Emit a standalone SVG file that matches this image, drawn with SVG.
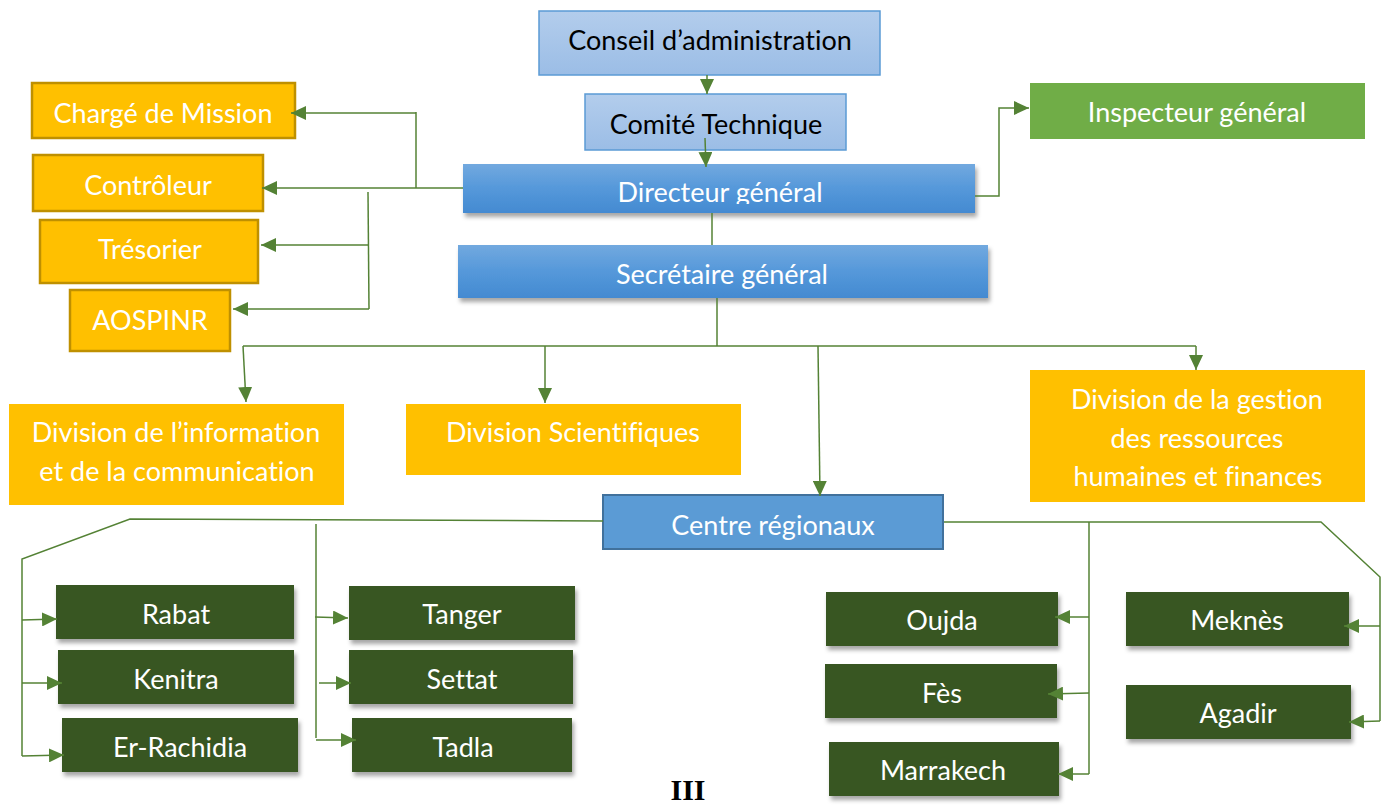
<svg xmlns="http://www.w3.org/2000/svg" width="1386" height="805" viewBox="0 0 1386 805">
<defs>
<linearGradient id="lb" x1="0" y1="0" x2="0" y2="1"><stop offset="0" stop-color="#b3cdec"/><stop offset="1" stop-color="#9bbde6"/></linearGradient>
<linearGradient id="db" x1="0" y1="0" x2="0" y2="1"><stop offset="0" stop-color="#72a9df"/><stop offset="0.5" stop-color="#5598da"/><stop offset="1" stop-color="#448ad1"/></linearGradient>
<filter id="sh" x="-5%" y="-20%" width="110%" height="150%"><feDropShadow dx="2" dy="4" stdDeviation="2" flood-color="#000" flood-opacity="0.35"/></filter>
<marker id="ar" viewBox="0 0 15 14" refX="15" refY="7" markerWidth="15" markerHeight="14" markerUnits="userSpaceOnUse" orient="auto"><path d="M0,0 L15,7 L0,14 z" fill="#548235"/></marker>
<clipPath id="dclip"><rect x="463" y="164" width="512" height="40"/></clipPath>
</defs>
<style>
text{font-family:Lato,"Open Sans","Liberation Sans",sans-serif;font-size:27px;text-anchor:middle;font-variant-ligatures:none}
.w{fill:#fff}
.k{fill:#000}
.gold{fill:#ffc000}
.goldb{fill:#ffc000;stroke:#bf9000;stroke-width:2.5}
.grn{fill:#385723;filter:url(#sh)}
.c line,.c path,.c polyline{stroke:#548235;stroke-width:1.5;fill:none}
.a{marker-end:url(#ar)}
</style>
<rect width="1386" height="805" fill="#fff"/>

<g id="conseil"><rect x="539" y="11" width="341" height="64" fill="url(#lb)" stroke="#5b9bd5" stroke-width="1.5"/><text x="710" y="50" class="k">Conseil d’administration</text></g>
<g id="comite"><rect x="585" y="94" width="261" height="56" fill="url(#lb)" stroke="#5b9bd5" stroke-width="1.5"/><text x="716" y="134" class="k">Comité Technique</text></g>
<g id="directeur"><rect x="463" y="164" width="512" height="49" fill="url(#db)" filter="url(#sh)"/><text x="720" y="202" class="w" clip-path="url(#dclip)">Directeur général</text></g>
<g id="secretaire"><rect x="458" y="245" width="530" height="53" fill="url(#db)" filter="url(#sh)"/><text x="722" y="284" class="w">Secrétaire général</text></g>
<g id="inspecteur"><rect x="1030" y="83" width="335" height="56" fill="#70ad47"/><text x="1197" y="122" class="w">Inspecteur général</text></g>

<g id="charge"><rect x="32" y="83" width="263" height="55" class="goldb"/><text x="163" y="123" class="w">Chargé de Mission</text></g>
<g id="controleur"><rect x="33" y="155" width="230" height="56" class="goldb"/><text x="148" y="195" class="w">Contrôleur</text></g>
<g id="tresorier"><rect x="40" y="220" width="218" height="63" class="goldb"/><text x="150" y="259" class="w">Trésorier</text></g>
<g id="aospinr"><rect x="70" y="290" width="160" height="61" class="goldb"/><text x="150" y="330" class="w">AOSPINR</text></g>

<g id="div-info"><rect x="9" y="404" width="335" height="101" class="gold"/><text x="176" y="442" class="w">Division de l’information</text><text x="177" y="481" class="w">et de la communication</text></g>
<g id="div-sci"><rect x="406" y="404" width="335" height="71" class="gold"/><text x="573" y="442" class="w">Division Scientifiques</text></g>
<g id="div-gest"><rect x="1030" y="370" width="335" height="132" class="gold"/><text x="1197" y="409" class="w">Division de la gestion</text><text x="1197" y="448" class="w">des ressources</text><text x="1198" y="486" class="w">humaines et finances</text></g>

<g id="centre"><rect x="603" y="495" width="340" height="54" fill="#5b9bd5" stroke="#41719c" stroke-width="2"/><text x="773" y="535" class="w">Centre régionaux</text></g>

<g id="rabat"><rect x="56" y="585" width="238" height="54" class="grn"/><text x="176" y="624" class="w">Rabat</text></g>
<g id="kenitra"><rect x="58" y="650" width="236" height="54" class="grn"/><text x="176" y="689" class="w">Kenitra</text></g>
<g id="errachidia"><rect x="62" y="718" width="236" height="54" class="grn"/><text x="180" y="757" class="w">Er-Rachidia</text></g>
<g id="tanger"><rect x="349" y="586" width="226" height="54" class="grn"/><text x="462" y="624" class="w">Tanger</text></g>
<g id="settat"><rect x="349" y="650" width="224" height="54" class="grn"/><text x="462" y="689" class="w">Settat</text></g>
<g id="tadla"><rect x="352" y="718" width="220" height="54" class="grn"/><text x="463" y="757" class="w">Tadla</text></g>
<g id="oujda"><rect x="826" y="592" width="232" height="54" class="grn"/><text x="942" y="630" class="w">Oujda</text></g>
<g id="fes"><rect x="825" y="664" width="232" height="54" class="grn"/><text x="942" y="703" class="w">Fès</text></g>
<g id="marrakech"><rect x="829" y="742" width="230" height="54" class="grn"/><text x="943" y="780" class="w">Marrakech</text></g>
<g id="meknes"><rect x="1126" y="592" width="223" height="54" class="grn"/><text x="1237" y="630" class="w">Meknès</text></g>
<g id="agadir"><rect x="1126" y="685" width="225" height="54" class="grn"/><text x="1238" y="723" class="w">Agadir</text></g>

<g class="c" id="connectors">
<line x1="707" y1="75" x2="707" y2="94" class="a"/>
<line x1="705" y1="138" x2="706" y2="167" class="a"/>
<line x1="712" y1="213" x2="712" y2="245"/>
<line x1="717" y1="298" x2="717" y2="346"/>
<line x1="243" y1="346" x2="1196" y2="346"/>
<line x1="243" y1="346" x2="246" y2="402" class="a"/>
<line x1="545" y1="346" x2="545" y2="403" class="a"/>
<line x1="818" y1="346" x2="820" y2="496" class="a"/>
<line x1="1196" y1="346" x2="1196" y2="370" class="a"/>
<line x1="463" y1="188" x2="262" y2="188" class="a"/>
<line x1="416" y1="112" x2="416" y2="188"/>
<line x1="416" y1="113" x2="291" y2="113" class="a"/>
<line x1="368" y1="192" x2="369" y2="309"/>
<line x1="368" y1="245" x2="261" y2="245" class="a"/>
<line x1="369" y1="309" x2="233" y2="309" class="a"/>
<polyline points="975,196 999,196 999,108 1029,108" class="a"/>
<polyline points="603,521 130,519 22,559 22,756"/>
<line x1="22" y1="620" x2="57" y2="619" class="a"/>
<line x1="22" y1="683" x2="62" y2="683" class="a"/>
<line x1="22" y1="756" x2="64" y2="755" class="a"/>
<line x1="316" y1="524" x2="316" y2="738"/>
<line x1="315" y1="617" x2="348" y2="618" class="a"/>
<line x1="319" y1="683" x2="351" y2="683" class="a"/>
<line x1="316" y1="740" x2="356" y2="740" class="a"/>
<polyline points="944,522 1321,522 1380,577 1380,721"/>
<line x1="1380" y1="626" x2="1344" y2="626" class="a"/>
<line x1="1380" y1="721" x2="1349" y2="722" class="a"/>
<line x1="1089" y1="522" x2="1089" y2="774"/>
<line x1="1089" y1="617" x2="1055" y2="617" class="a"/>
<line x1="1089" y1="693" x2="1048" y2="694" class="a"/>
<line x1="1089" y1="774" x2="1058" y2="774" class="a"/>
</g>

<text x="688" y="800" style="font-family:'Liberation Serif',serif;font-weight:bold;font-size:30px" class="k">III</text>
</svg>
